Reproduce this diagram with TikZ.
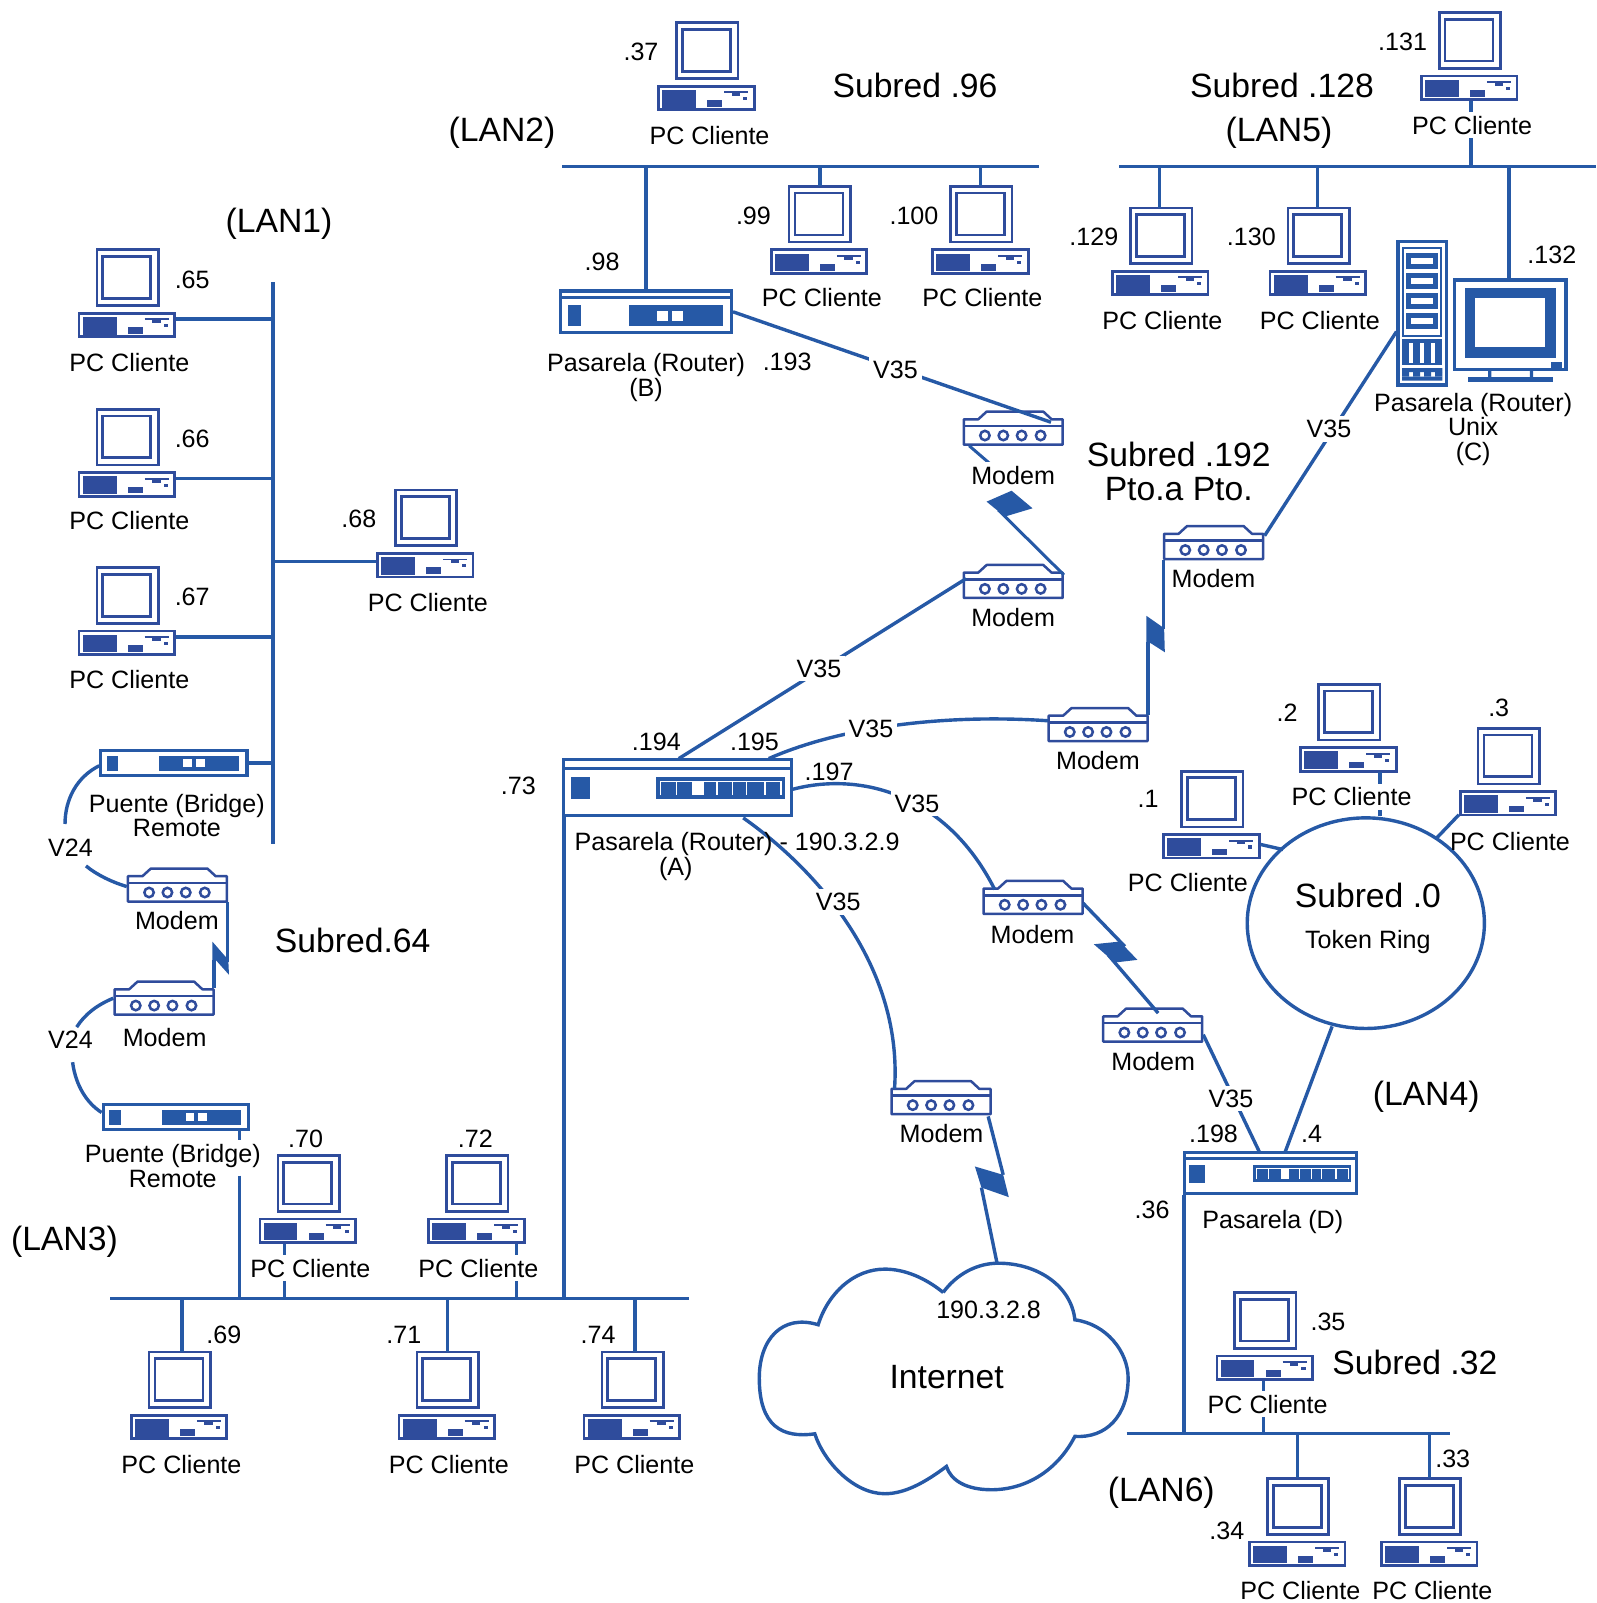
\documentclass[tikz,border=0pt]{standalone}
\usepackage{fontspec}
\usetikzlibrary{shapes.geometric}
\setmainfont{Liberation Sans}
\definecolor{lnblue}{HTML}{2659A6}
\definecolor{pcblue}{HTML}{2F4C9C}
\def\uu{0.5112pt}
\newcommand{\combbar}[3]{%
  \begin{scope}[shift={(#1,#2)},scale=#3]
    \fill[lnblue] (0,0) rectangle (387,65);
    \fill[white] (110,12) rectangle (140,52);
    \draw[white,line width=0.55pt] (12,54)--(12,12)--(374,12)--(374,54);
    \foreach \c in {60,110,140,182,228,270,326}{\draw[white,line width=0.55pt] (\c,12)--(\c,52);}
  \end{scope}}
\tikzset{
  wire/.style={draw=lnblue,line width=1.7pt},
  txt/.style={font=\fontsize{12.55}{13}\selectfont,inner sep=0pt,text=black},
  big/.style={font=\fontsize{16.85}{17}\selectfont,inner sep=0pt,text=black},
  wtxt/.style={txt,fill=white,inner xsep=2pt,inner ysep=2pt},
  devbox/.style={draw=lnblue,fill=white,line width=1.6pt,inner sep=0pt,anchor=north west},
  flash/.style={fill=lnblue},
  pcunit/.pic={
    \node[draw=pcblue,fill=white,line width=1.35pt,inner sep=0pt,anchor=north west,minimum width=93.4*\uu,minimum height=23*\uu] (-case) at (0,0) {};
    \node[draw=pcblue,fill=white,line width=1.35pt,inner sep=0pt,anchor=north west,minimum width=60*\uu,minimum height=54.5*\uu] (-mon) at (17.5,-62) {};
    \draw[pcblue,line width=1.35pt] (24.5,-54.2) rectangle (71.5,-13.2);
    \fill[pcblue] (4.9,5) rectangle (38,22.2);
    \fill[pcblue] (49,15) rectangle (63.6,21.7);
    \draw[pcblue,line width=0.9pt] (65.5,7.3)--(89,7.3);
    \fill[pcblue] (73,7) rectangle (81,11);
    \fill[pcblue] (84,12) rectangle (88,15);
    \coordinate (-e) at (96,7);
    \coordinate (-t) at (48.7,-62);
    \coordinate (-b) at (48,25.6);
  },
  modemunit/.pic={
    \draw[pcblue,fill=white,line width=1.25pt,line join=round] (1.1,1.1)--(15.3,1.1)--(23.5,-6.4)--(78.9,-6.4)--(87,1.1)--(97.9,1.1)--(97.9,25.9)--(1.1,25.9)--cycle;
    \node[inner sep=0pt,anchor=north west,minimum width=99*\uu,minimum height=27*\uu] (-case) at (0,0) {};
    \draw[pcblue,line width=1.25pt] (1.1,7.7)--(97.9,7.7);
    \foreach \c in {21.8,39.8,57.7,76.3}{\draw[pcblue,line width=1.25pt] (\c,17) circle (4.6);}
  }
}
\begin{document}
\begin{tikzpicture}[x=\uu,y=-\uu]
\useasboundingbox (0,0) rectangle (1562,1568);

% ---- bus ends and taps
\coordinate (l1a) at (267,276); \coordinate (l1b) at (267,826);
\coordinate (l2a) at (550,163); \coordinate (l2b) at (1016,163);
\coordinate (l5a) at (1095,163); \coordinate (l5b) at (1561,163);
\coordinate (l3a) at (108,1270); \coordinate (l3b) at (674,1270);
\coordinate (l6a) at (1102,1402); \coordinate (l6b) at (1418,1402);
\draw[wire] (l1a)--(l1b);
\draw[wire] (l2a)--(l2b);
\draw[wire] (l5a)--(l5b);
\draw[wire] (l3a)--(l3b);
\draw[wire] (l6a)--(l6b);

% ---- PCs
\pic (p65) at (76,305) {pcunit};
\pic (p66) at (76,461) {pcunit};
\pic (p67) at (76,616) {pcunit};
\pic (p68) at (368,540) {pcunit};
\pic (p37) at (643,83) {pcunit};
\pic (p99) at (753,243) {pcunit};
\pic (p100) at (911,243) {pcunit};
\pic (p129) at (1087,264) {pcunit};
\pic (p130) at (1241,264) {pcunit};
\pic (p131) at (1389,73) {pcunit};
\pic (p2) at (1271,730) {pcunit};
\pic (p3) at (1427,773) {pcunit};
\pic (p1) at (1137,815) {pcunit};
\pic (p35) at (1189,1325) {pcunit};
\pic (p34) at (1221,1507) {pcunit};
\pic (p33) at (1350,1507) {pcunit};
\pic (p70) at (253,1191) {pcunit};
\pic (p72) at (418,1191) {pcunit};
\pic (p69) at (127,1383) {pcunit};
\pic (p71) at (389,1383) {pcunit};
\pic (p74) at (570,1383) {pcunit};

% ---- routers and bridges
\node[devbox,minimum width=167*\uu,minimum height=41*\uu] (rB) at (547,283) {};
\draw[lnblue,line width=1.6pt] (547,291)--(717,291);
\fill[lnblue] (556,298) rectangle (568,319);
\fill[lnblue] (615,298) rectangle (707,319);
\fill[white] (642.7,304) rectangle (653.5,314);
\fill[white] (657,304) rectangle (668,314);

\node[devbox,minimum width=222.6*\uu,minimum height=54.4*\uu] (rA) at (550,741.6) {};
\draw[lnblue,line width=1.6pt] (550,751.5)--(775.6,751.5);
\fill[lnblue] (558.5,760) rectangle (577,782);
\combbar{642}{760.5}{0.326}

\node[devbox,minimum width=168*\uu,minimum height=40*\uu] (rD) at (1157.3,1125.7) {};
\draw[lnblue,line width=1.6pt] (1157.3,1133)--(1328.4,1133);
\fill[lnblue] (1163.2,1139.4) rectangle (1178.5,1156.7);
\combbar{1226}{1140}{0.248}

\node[devbox,minimum width=143*\uu,minimum height=24.7*\uu] (br1) at (97.1,732.5) {};
\fill[lnblue] (104.3,739) rectangle (115.7,753.8);
\fill[lnblue] (155.8,739) rectangle (233.7,753.8);
\fill[white] (179.3,742.6) rectangle (187.8,749.8);
\fill[white] (191.7,742.6) rectangle (200.5,749.8);

\node[devbox,minimum width=142*\uu,minimum height=24*\uu] (br2) at (99.4,1079) {};
\fill[lnblue] (106.6,1085.5) rectangle (118,1100.3);
\fill[lnblue] (158,1085.5) rectangle (236,1100.3);
\fill[white] (181.6,1089) rectangle (190,1096.3);
\fill[white] (194,1089) rectangle (202.8,1096.3);

% ---- modems
\pic (m1) at (941.6,409) {modemunit};
\pic (m2) at (941.6,559) {modemunit};
\pic (m3) at (1137.6,521) {modemunit};
\pic (m4) at (1024.6,699) {modemunit};
\pic (m5) at (961,868) {modemunit};
\pic (m6) at (1078,993) {modemunit};
\pic (m7) at (871,1064) {modemunit};
\pic (m8) at (124,856) {modemunit};
\pic (m9) at (111,966.6) {modemunit};

% ---- Unix host (C)
\begin{scope}[shift={(1339.9,224.9)},scale=0.326]
  \fill[lnblue] (78,30) rectangle (235,470);
  \fill[white] (90,40) rectangle (225,460);
  \fill[lnblue] (97,50) rectangle (218,322);
  \fill[white] (104,58) rectangle (212,315);
  \foreach \t in {68,130,190,250}{
    \fill[lnblue] (110,\t) rectangle (205,\t+48);
    \fill[white] (124,\t+15) rectangle (190,\t+33);}
  \fill[lnblue] (97,328) rectangle (218,405);
  \foreach \t in {118,151,184}{
    \fill[white] (\t,340) rectangle (\t+12,400);}
  \fill[lnblue] (97,415) rectangle (218,427) (97,440) rectangle (218,452);
  \fill[lnblue] (97,427) rectangle (118,440) (130,427) rectangle (151,440) (163,427) rectangle (184,440) (196,427) rectangle (218,440);
  \fill[lnblue] (250,145) rectangle (594,424);
  \fill[white] (260,155) rectangle (584,414);
  \fill[lnblue] (285,173) rectangle (558,383);
  \fill[white] (317,205) rectangle (527,352);
  \fill[lnblue] (543,395) rectangle (578,414);
  \fill[lnblue] (355,424) rectangle (365,445) (480,424) rectangle (490,445);
  \fill[lnblue] (295,442) rectangle (550,456);
  \coordinate (srvw) at (80,305);
  \coordinate (mont) at (418,145);
\end{scope}

% ---- token ring and cloud
\node[draw=lnblue,fill=white,line width=1.7pt,ellipse,minimum width=232*\uu,minimum height=206*\uu,inner sep=0pt] (ring) at (1336,903) {};
\draw[lnblue,line width=1.7pt,fill=white] (922.6,1264.2)
  .. controls (935,1247) and (955,1235.6) .. (976.4,1235.6)
  .. controls (1015,1235.6) and (1048,1258) .. (1051.4,1291)
  .. controls (1082,1295) and (1103.5,1322) .. (1103.5,1348)
  .. controls (1103.5,1385) and (1082,1407) .. (1051.4,1405)
  .. controls (1035,1437) and (1005,1457.2) .. (969.8,1457.2)
  .. controls (945,1457.2) and (930,1448) .. (925.8,1434.4)
  .. controls (905,1450) and (885,1461.1) .. (865.5,1461.1)
  .. controls (835,1461.1) and (806,1430) .. (797,1402.5)
  .. controls (765,1407) and (742.7,1395) .. (742.7,1348)
  .. controls (742.7,1310) and (765,1285) .. (800.3,1295.8)
  .. controls (810,1265) and (835,1241.4) .. (865.5,1241.4)
  .. controls (885,1241.4) and (905,1250) .. (922.6,1264.2);
\coordinate (cloudt) at (975.4,1236.2);

% ---- LAN connectors
\draw[wire] (p65-e) -- (p65-e -| l1a);
\draw[wire] (p66-e) -- (p66-e -| l1a);
\draw[wire] (p67-e) -- (p67-e -| l1a);
\coordinate (p68w) at (368,549);
\draw[wire] (p68w) -- (p68w -| l1a);
\draw[wire] (br1.east) -- (br1.east -| l1a);

\coordinate (t99) at (802,182); \coordinate (t100) at (959,182);
\coordinate (t129) at (1134,203); \coordinate (t130) at (1289,203);
\coordinate (t131) at (1439,99);
\draw[wire] (t99) -- (t99 |- l2a);
\draw[wire] (t100) -- (t100 |- l2a);
\draw[wire] (rB.north) -- (rB.north |- l2a);
\draw[wire] (t129) -- (t129 |- l5a);
\draw[wire] (t130) -- (t130 |- l5a);
\draw[wire] (t131) -- (t131 |- l5a);
\draw[wire] (mont) -- (mont |- l5a);

\coordinate (t70) at (278,1216.6); \coordinate (t72) at (505,1216.6);
\coordinate (t69) at (178,1322); \coordinate (t71) at (438,1322); \coordinate (t74) at (621,1322);
\draw[wire] (t70) -- (t70 |- l3a);
\draw[wire] (t72) -- (t72 |- l3a);
\draw[wire] (t69) -- (t69 |- l3a);
\draw[wire] (t71) -- (t71 |- l3a);
\draw[wire] (t74) -- (t74 |- l3a);
\coordinate (br2s) at (234,1105.8); \coordinate (br2g) at (234,1115); \coordinate (br2h) at (234,1150);
\draw[wire] (br2s) -- (br2g);
\draw[wire] (br2h) -- (br2h |- l3a);
\coordinate (rAsw) at (551.5,799);
\draw[wire] (rAsw) -- (rAsw |- l3a);

\coordinate (t35) at (1236,1350.6); \coordinate (t34) at (1269,1446); \coordinate (t33) at (1398,1446);
\draw[wire] (t35) -- (t35 |- l6a);
\draw[wire] (t34) -- (t34 |- l6a);
\draw[wire] (t33) -- (t33 |- l6a);
\coordinate (rDsw) at (1158.3,1168.7);
\draw[wire] (rDsw) -- (rDsw |- l6a);

\coordinate (p2s) at (1350,755.6);
\draw[wire] (p2s) -- (p2s |- ring.north);
\coordinate (p3w) at (1427,797);
\coordinate (r3) at (1405,820);
\draw[wire] (p3w) -- (r3);
\coordinate (p1e) at (1233,826);
\coordinate (r1) at (1255,831);
\draw[wire] (p1e) -- (r1);

% ---- WAN connectors
\coordinate (rBe) at (717,305); \coordinate (m1i) at (1028,413);
\draw[wire] (rBe) -- (m1i);
\coordinate (rAn1) at (664,742); \coordinate (m2i) at (945,566);
\draw[wire] (rAn1) -- (m2i);
\coordinate (rAn2) at (752,742); \coordinate (m4i) at (1025,705);
\draw[wire] (rAn2) .. controls (820,712) and (920,698) .. (m4i);
\coordinate (rAe) at (775.6,772); \coordinate (m5i) at (973,870);
\draw[wire] (rAe) .. controls (840,755) and (925,775) .. (m5i);
\coordinate (rAs) at (727,800); \coordinate (m7i) at (875,1065);
\draw[wire] (rAs) .. controls (805,855) and (883,950) .. (m7i);
\coordinate (m6o) at (1177,1012); \coordinate (rDn1) at (1232,1127);
\draw[wire] (m6o) -- (rDn1);
\coordinate (ringb) at (1303,1004); \coordinate (rDn2) at (1257,1127);
\draw[wire] (ringb) -- (rDn2);
\coordinate (m3o) at (1237,524);
\draw[wire] (srvw) -- (m3o);

% V24 links
\coordinate (br1w) at (97.1,749); \coordinate (m8w) at (124,867.2);
\draw[wire] (br1w) .. controls (75,760) and (63.6,782) .. (63.6,806);
\coordinate (v24a) at (84.1,847);
\draw[wire] (v24a) .. controls (95,856) and (110,863) .. (m8w);
\coordinate (m9w) at (110.8,976.4); \coordinate (v24b) at (75,1004.7);
\draw[wire] (m9w) .. controls (95,983) and (83,992) .. (v24b);
\coordinate (v24c) at (71,1039); \coordinate (br2w) at (99.4,1088.2);
\draw[wire] (v24c) .. controls (74,1062) and (85,1079) .. (br2w);

% ---- radio links
\coordinate (m1s) at (948,436); \coordinate (m1z) at (1040.7,562.4);
\draw[wire,line width=1.5pt] (m1s) -- (970,455);
\draw[wire,line width=1.5pt] (976.5,498.8) -- (m1z);
\fill[flash] (989.5,480) -- (965,490.7) -- (983,505.3) -- (1010,497.2) -- cycle;

\coordinate (m3s) at (1137.8,548); \coordinate (m4e) at (1123,699);
\draw[wire] (m3s) -- (1137.8,615);
\draw[wire] (m4e) -- (1123,628);
\fill[flash] (1121.4,602.4) -- (1138.7,614.5) -- (1139.4,638) -- (1125.7,629.2) -- (1121.4,629) -- cycle;

\coordinate (m5e) at (1059.5,883.5); \coordinate (m6t) at (1132.9,991);
\draw[wire] (m5e) -- (1100.3,925.8);
\draw[wire] (1084,934) -- (m6t);
\fill[flash] (1069.9,923.6) -- (1095.4,921) -- (1112.6,938.9) -- (1090.5,941.5) -- cycle;

\coordinate (m7e) at (966.6,1092);
\draw[wire] (m7e) -- (981.3,1149.2);
\draw[wire] (960,1161.6) -- (cloudt);
\fill[flash] (953.6,1141) -- (981.3,1149.2) -- (986.8,1171) -- (960,1161.6) -- cycle;

\coordinate (m8e) at (222.3,882.5); \coordinate (m9e) at (209.3,966.6);
\draw[wire] (m8e) -- (222.3,940.5);
\draw[wire] (m9e) -- (209.3,938.9);
\fill[flash] (207.7,921) -- (223.3,938.9) -- (224,953.5) -- (211,939) -- (207.7,939) -- cycle;

% ---- large labels
\node[big] (tl2) at (491,130) {(LAN2)};
\node[big] (ts96) at (895,84) {Subred .96};
\node[big] (ts128) at (1254,84) {Subred .128};
\node[big] (tl5) at (1251,130) {(LAN5)};
\node[big] (tl1) at (273,219) {(LAN1)};
\node[big] (ts192) at (1153,445) {Subred .192};
\node[big] (tpp) at (1153,478) {Pto.a Pto.};
\node[big] (ts64) at (345,920) {Subred.64};
\node[big] (tl4) at (1395,1073) {(LAN4)};
\node[big] (tl3) at (63,1215) {(LAN3)};
\node[big] (ts32) at (1384,1333) {Subred .32};
\node[big] (tl6) at (1136,1460) {(LAN6)};
\node[big] (tnet) at (926,1347) {Internet};
\node[big] (ts0) at (1338,876) {Subred .0};
\node[txt] (ttr) at (1338,921) {Token Ring};
\node[txt] (tip8) at (967,1281) {190.3.2.8};

% ---- address labels
\foreach \nm/\px/\py/\s in {a37/627/51/.37,a65/188/274/.65,a66/188/429/.66,a67/188/584/.67,a68/351/508/.68,a98/589/256/.98,a99/737/211/.99,a100/894/211/.100,a129/1070/232/.129,a130/1224/232/.130,a131/1372/41/.131,a132/1518/249/.132,a193/770/354/.193,a194/642/726/.194,a195/738/726/.195,a197/811/755/.197,a73/507/769/.73,a2/1259/697/.2,a3/1466/692/.3,a1/1123/781/.1,a198/1187/1109/.198,a4/1283/1109/.4,a36/1127/1183/.36,a35/1299/1293/.35,a33/1421/1427/.33,a34/1200/1497/.34,a70/299/1114/.70,a72/465/1114/.72,a69/219/1306/.69,a71/395/1306/.71,a74/585/1306/.74}
  {\node[txt] (\nm) at (\px,\py) {\s};}

% ---- PC labels
\foreach \nm/\px/\py in {c65/126.5/354.5,c66/126.5/509.5,c67/126.5/664.5,c68/418.5/589.5,c37/694/132.5,c99/804/291.5,c100/961/291.5,c129/1137/313.5,c130/1291/313.5,c131/1440/122.5,c2/1322/779.5,c35/1240/1373.5,c34/1272/1555.5,c33/1401/1555.5,c70/303.5/1240.5,c72/468/1240.5,c69/177.5/1432.5,c71/439/1432.5,c74/620.5/1432.5}
  {\node[wtxt] (\nm) at (\px,\py) {PC Cliente};}
\node[txt] (c3) at (1477,823.5) {PC Cliente};
\node[txt] (c1) at (1162,863.5) {PC Cliente};

% ---- device labels
\node[txt] (tB1) at (632,357) {Pasarela (Router)};
\node[txt] (tB2) at (632,381) {(B)};
\node[txt] (tC1) at (1441,396) {Pasarela (Router)};
\node[txt] (tC2) at (1441,417) {Unix};
\node[txt] (tC3) at (1441,444) {(C)};
\node[txt] (tA1) at (721,826) {Pasarela (Router) - 190.3.2.9};
\node[txt] (tA2) at (661,850) {(A)};
\node[txt] (tD) at (1245,1195) {Pasarela (D)};
\node[txt] (tb1) at (173,788) {Puente (Bridge)};
\node[txt] (tb2) at (173,810) {Remote};
\node[txt] (tb3) at (169,1131) {Puente (Bridge)};
\node[txt] (tb4) at (169,1153) {Remote};
\foreach \nm/\px/\py in {mt1/991/465,mt2/991/604,mt3/1187/566,mt4/1074/744,mt5/1010/914,mt6/1128/1038,mt7/921/1109,mt8/173/900,mt9/161/1015}
  {\node[wtxt] (\nm) at (\px,\py) {Modem};}
\foreach \nm/\px/\py in {v1/876/361.5,v2/1300/419.5,v3/801/654,v4/852/713,v5/897/786,v6/820/882,v7/1204/1074.5}
  {\node[wtxt] (\nm) at (\px,\py) {V35};}
\node[txt] (w1) at (69,829) {V24};
\node[txt] (w2) at (69,1017) {V24};
\end{tikzpicture}
\end{document}
